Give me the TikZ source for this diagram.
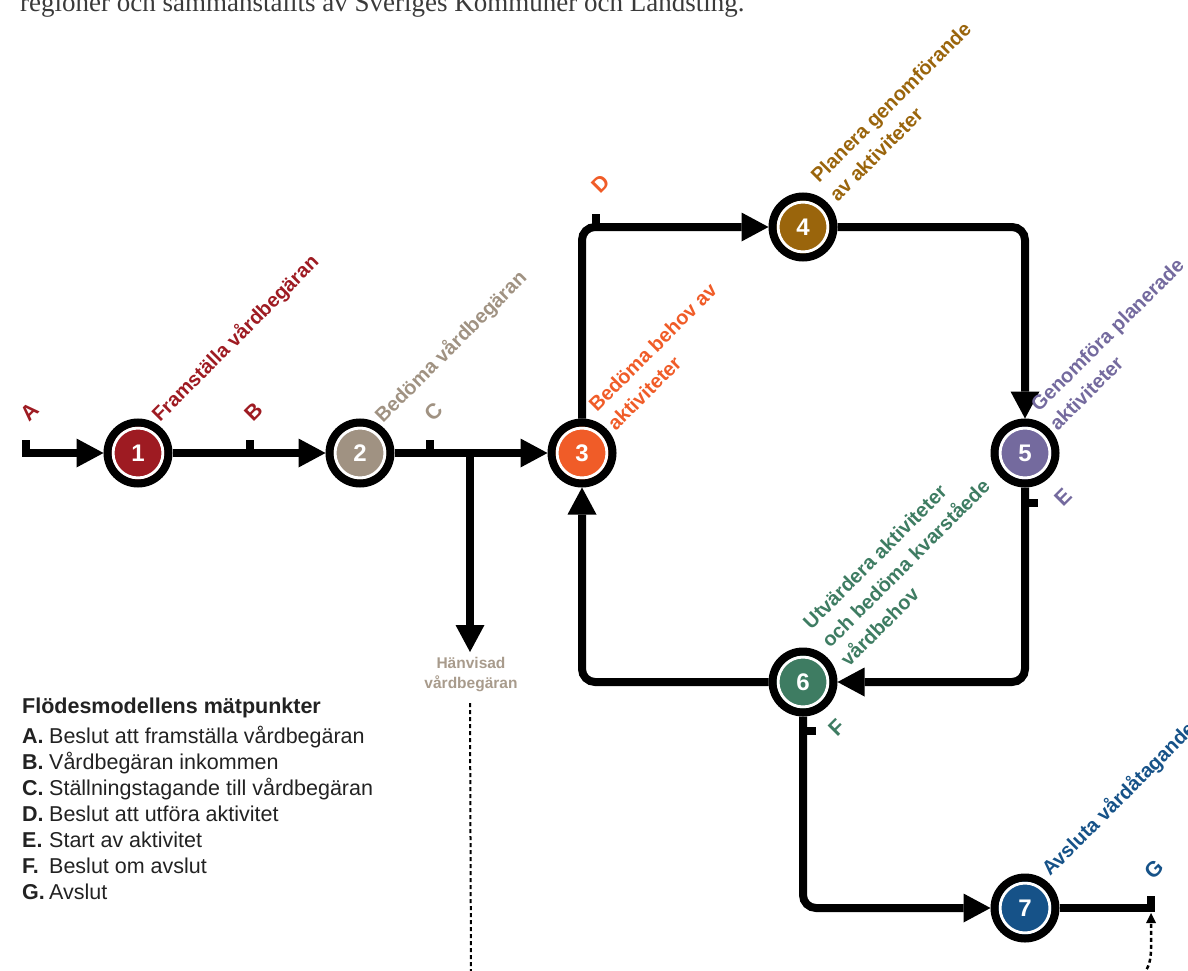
\documentclass[tikz,border=0pt]{standalone}
\usepackage{fontspec}
\setmainfont{Liberation Sans}
\newfontfamily\serifface{Liberation Serif}
\usetikzlibrary{arrows.meta}

\definecolor{cone}{RGB}{158,27,34}
\definecolor{ctwo}{RGB}{160,146,130}
\definecolor{cthree}{RGB}{240,92,40}
\definecolor{cfour}{RGB}{154,101,12}
\definecolor{cfive}{RGB}{116,106,158}
\definecolor{csix}{RGB}{62,124,98}
\definecolor{cseven}{RGB}{22,82,136}
\definecolor{chanv}{RGB}{168,155,140}
\definecolor{ctext}{RGB}{34,34,34}
\definecolor{ctop}{RGB}{58,58,58}

\newcommand\legkey[1]{\makebox[27pt][l]{\bfseries #1}}

\begin{document}
\begin{tikzpicture}[x=1pt,y=-1pt,
  stepnode/.style={circle, draw=black, line width=8pt, fill=#1, minimum size=61pt, inner sep=0pt,
     text=white, font=\fontsize{24}{24}\selectfont\bfseries,
     path picture={\draw[white,line width=3pt] (path picture bounding box.center) circle (25pt);}},
  flow/.style={line width=8pt, rounded corners=13pt, -{Triangle[length=27pt,width=29pt,line width=0pt]}},
  plainline/.style={line width=8pt},
  tickmark/.style={line width=8pt},
  steplabel/.style={rotate=45, inner sep=0pt, font=\fontsize{20}{26.5}\selectfont\bfseries, align=left, text=#1},
  letterlabel/.style={rotate=45, inner sep=0pt, anchor=base west, font=\fontsize{21.5}{24}\selectfont\bfseries, text=#1},
  dotline/.style={line width=2.5pt, dash pattern=on 4pt off 3pt},
]
\useasboundingbox (0,0) rectangle (1188,971);

% top text (cut by page edge)
\node[anchor=base west, inner sep=0pt, text=ctop, font=\serifface\fontsize{27}{30}\selectfont] (toptext) at (20,12) {regioner och sammanställts av Sveriges Kommuner och Landsting.};

% step nodes
\node[stepnode=cone] (n1) at (138,453) {1};
\node[stepnode=ctwo] (n2) at (360,453) {2};
\node[stepnode=cthree] (n3) at (582,453) {3};
\node[stepnode=cfour] (n4) at (803,227) {4};
\node[stepnode=cfive] (n5) at (1025,453) {5};
\node[stepnode=csix] (n6) at (803,682) {6};
\node[stepnode=cseven] (n7) at (1025,908) {7};

% coordinates
\coordinate (a0) at (22,453);
\coordinate (ta) at (26,453);
\coordinate (tb) at (250,453);
\coordinate (tc) at (430,453);
\coordinate (br) at (470,453);
\coordinate (bre) at (470,652);
\coordinate (td) at (596,227);
\coordinate (te) at (1025,503);
\coordinate (tf) at (803,731);
\coordinate (g0) at (1155,908);
\coordinate (tg) at (1151,908);

% connectors
\draw[flow] (a0) -- (n1);
\draw[flow] (n1) -- (n2);
\draw[flow] (n2) -- (n3);
\draw[flow] (br) -- (bre);
\draw[flow] (n3) |- (n4);
\draw[flow] (n4) -| (n5);
\draw[flow] (n5) |- (n6);
\draw[flow] (n6) -| (n3);
\draw[flow] (n6) |- (n7);
\draw[plainline] (n7) -- (g0);

% measurement ticks
\draw[tickmark] (ta) -- ++(0,-13);
\draw[tickmark] (tb) -- ++(0,-13);
\draw[tickmark] (tc) -- ++(0,-13);
\draw[tickmark] (td) -- ++(0,-13);
\draw[tickmark] (te) -- ++(13,0);
\draw[tickmark] (tf) -- ++(13,0);
\draw[tickmark] (tg) -- ++(0,-12);

% step labels
\node[steplabel=cone, anchor=base west] (l1) at (160,423) {Framställa vårdbegäran};
\node[steplabel=ctwo, anchor=base west] (l2) at (383,424) {Bedöma vårdbegäran};
\node[steplabel=cthree, anchor=south west] (l3) at (616,432) {Bedöma behov av\\aktiviteter};
\node[steplabel=cfour, anchor=south west] (l4) at (838,203) {Planera genomförande\\av aktiviteter};
\node[steplabel=cfive, anchor=south west] (l5) at (1058,432) {Genomföra planerade\\aktiviteter};
\node[steplabel=csix, anchor=south west] (l6) at (849,668) {Utvärdera aktiviteter\\och bedöma kvarståede\\vårdbehov};
\node[steplabel=cseven, anchor=base west] (l7) at (1050,877) {Avsluta vårdåtagande};

% letter labels
\node[letterlabel=cone] (la) at (29,423) {A};
\node[letterlabel=cone] (lb) at (253,423) {B};
\node[letterlabel=ctwo] (lc) at (433,423) {C};
\node[letterlabel=cthree] (ld) at (600,195) {D};
\node[letterlabel=cfive] (le) at (1063,508) {E};
\node[letterlabel=csix] (lf) at (837,738) {F};
\node[letterlabel=cseven] (lg) at (1153,881) {G};

% referred request
\node[anchor=north, inner sep=0pt, align=center, text=chanv, font=\fontsize{15.5}{20}\selectfont\bfseries] (hanv) at (471,657) {Hänvisad\\vårdbegäran};
\coordinate (d1) at (470,703);
\coordinate (d2) at (471,975);
\draw[dotline, line width=2pt] (d1) -- (d2);

% dotted arrow to G
\coordinate (g1) at (1143,975);
\coordinate (g2) at (1151,913);
\draw[dotline, -{Triangle[length=10pt,width=10pt,line width=0pt]}] (g1) .. controls (1149,967) and (1151,960) .. (1151,948) -- (g2);

% legend
\node[anchor=south west, inner sep=0pt, align=left, text=ctext, font=\fontsize{21.5}{26}\selectfont] (legend) at (22,899.5)
 {\textbf{Flödesmodellens mätpunkter}\\[3.5pt]
  \legkey{A.}Beslut att framställa vårdbegäran\\
  \legkey{B.}Vårdbegäran inkommen\\
  \legkey{C.}Ställningstagande till vårdbegäran\\
  \legkey{D.}Beslut att utföra aktivitet\\
  \legkey{E.}Start av aktivitet\\
  \legkey{F.}Beslut om avslut\\
  \legkey{G.}Avslut};
\end{tikzpicture}
\end{document}
